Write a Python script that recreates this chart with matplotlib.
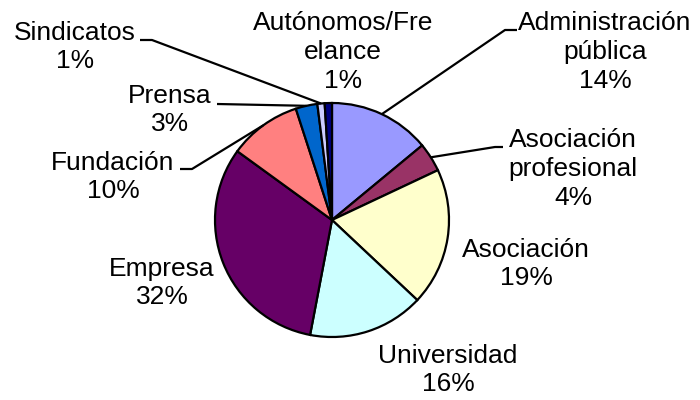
import numpy as np
import matplotlib.pyplot as plt

plt.rcParams['font.family'] = ['Liberation Sans', 'DejaVu Sans']

# Data
categories = ['Administración\npública', 'Asociación\nprofesional', 'Asociación',
              'Universidad', 'Empresa', 'Fundación', 'Prensa', 'Sindicatos',
              'Autónomos/Fre\nelance']
shares = [14, 4, 19, 16, 32, 10, 3, 1, 1]
colors = ['#9999FF', '#993366', '#FFFFCC', '#CCFFFF', '#660066',
          '#FF8080', '#0066CC', '#CCCCFF', '#000080']

W, H = 700, 400
fig = plt.figure(figsize=(7, 4), dpi=100)
ax = fig.add_axes([0, 0, 1, 1])
ax.set_xlim(0, W)
ax.set_ylim(0, H)
ax.set_aspect('equal')
ax.axis('off')

cx, cy, r = 332, H - 220, 117
wedges, _ = ax.pie(shares, colors=colors, startangle=90, counterclock=False,
                   center=(cx, cy), radius=r,
                   wedgeprops=dict(edgecolor='black', linewidth=1.6))
ax.set_xlim(0, W)
ax.set_ylim(0, H)

# label text centre (pixel coords from top) and leader elbow (None = no line)
label_pos = [(605, 52), (573, 169), (526, 264), (448, 370), (162, 283),
             (113, 177), (170, 110), (75, 47), (343, 52)]
elbows = [[(517, 30), (505, 30)],
          [(503, 147), (495, 147)],
          None, None, None,
          [(180, 169), (192, 169)],
          [(217, 104)],
          [(140, 40), (152, 40)],
          None]

for w, cat, s, (lx, ly), el in zip(wedges, categories, shares, label_pos, elbows):
    ax.text(lx, H - ly, f'{cat}\n{s}%', ha='center', va='center',
            fontsize=19, linespacing=1.25)
    if el is not None:
        mid = np.deg2rad((w.theta1 + w.theta2) / 2)
        ex, ey = cx + r * np.cos(mid), cy + r * np.sin(mid)
        xs = [p[0] for p in el] + [ex]
        ys = [H - p[1] for p in el] + [ey]
        ax.plot(xs, ys, color='black', linewidth=1.6, solid_capstyle='butt')

fig.savefig('out.png', dpi=100)
